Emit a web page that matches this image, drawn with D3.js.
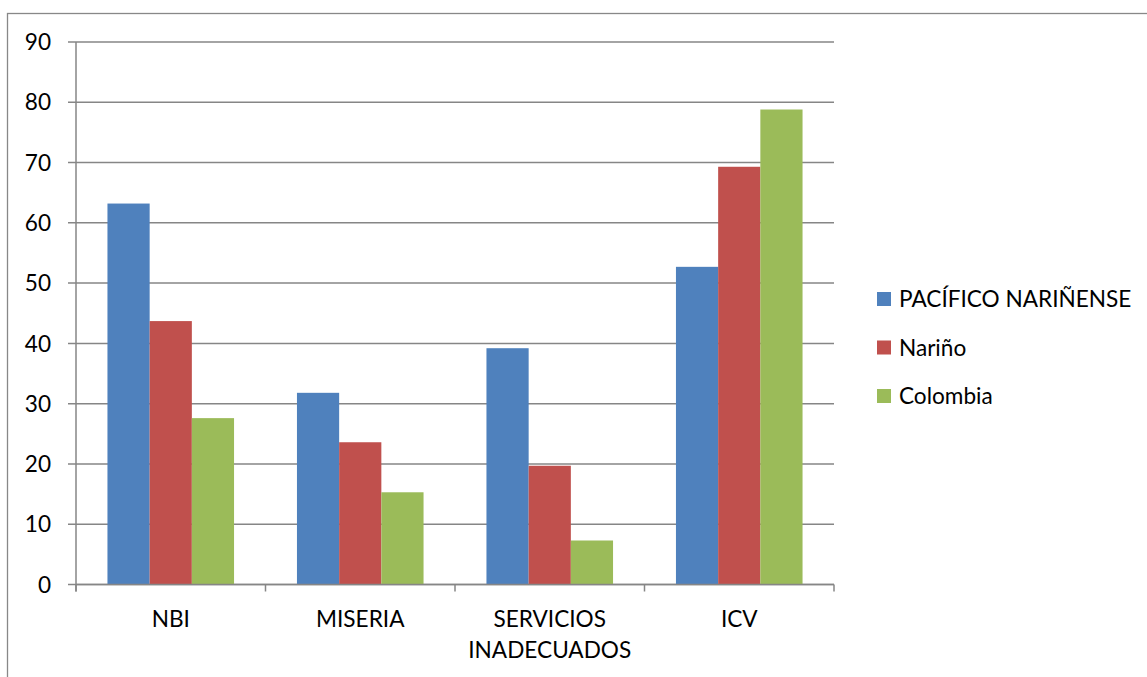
<!DOCTYPE html>
<html><head><meta charset="utf-8">
<script src="https://cdn.jsdelivr.net/npm/d3@7"></script>
<style>body{margin:0;background:#fff}svg{display:block}text{font-family:Lato,"Open Sans",sans-serif;fill:#000}</style>
</head><body>
<svg id="c" width="1147" height="677"></svg>
<script>
const categories = [["NBI"], ["MISERIA"], ["SERVICIOS", "INADECUADOS"], ["ICV"]];
const seriesNames = ["PACÍFICO NARIÑENSE", "Nariño", "Colombia"];
const pacifico = [63.2, 31.8, 39.2, 52.7];
const narino = [43.7, 23.6, 19.7, 69.3];
const colombia = [27.6, 15.3, 7.3, 78.8];
const yTicks = [0, 10, 20, 30, 40, 50, 60, 70, 80, 90];
const colors = ["#4F81BD", "#C0504D", "#9BBB59"];

const FS = 22.6;
const seriesValues = [pacifico, narino, colombia];
const svg = d3.select("#c");
const L = 76, R = 834, T = 42, B = 584.5;

svg.append("rect").attr("x", 7.5).attr("y", 13.5).attr("width", 1145).attr("height", 700)
  .attr("fill", "none").attr("stroke", "#888").attr("stroke-width", 1.3);

const y = d3.scaleLinear().domain([0, 90]).range([B, T]);
const x0 = d3.scaleBand().domain(d3.range(categories.length)).range([L, R]).padding(0);
const gap = x0.bandwidth() * 0.166;
const x1 = d3.scaleBand().domain(d3.range(seriesNames.length)).range([gap, x0.bandwidth() - gap]).padding(0);

svg.append("g").selectAll("line").data(yTicks).join("line")
  .attr("x1", L - 8).attr("x2", R).attr("y1", d => y(d)).attr("y2", d => y(d))
  .attr("stroke", "#868686").attr("stroke-width", 1.5);

svg.append("line").attr("x1", L).attr("x2", L).attr("y1", T).attr("y2", B + 7)
  .attr("stroke", "#868686").attr("stroke-width", 1.5);

svg.append("g").selectAll("text").data(yTicks).join("text")
  .attr("x", 51).attr("y", d => y(d)).attr("dy", "0.36em").attr("text-anchor", "end")
  .attr("font-size", FS).text(d => d);

const g = svg.append("g");
categories.forEach((c, i) => {
  seriesValues.forEach((vals, s) => {
    g.append("rect")
      .attr("x", x0(i) + x1(s)).attr("width", x1.bandwidth())
      .attr("y", y(vals[i])).attr("height", y(0) - y(vals[i]))
      .attr("fill", colors[s]);
  });
});

svg.append("line").attr("x1", L).attr("x2", R).attr("y1", B).attr("y2", B)
  .attr("stroke", "#868686").attr("stroke-width", 1.5);
const tickXs = d3.range(categories.length + 1).map(i => i < categories.length ? x0(i) : R);
svg.append("g").selectAll("line").data(tickXs).join("line")
  .attr("x1", d => d).attr("x2", d => d).attr("y1", B).attr("y2", B + 7)
  .attr("stroke", "#868686").attr("stroke-width", 1.5);

categories.forEach((lines, i) => {
  const t = svg.append("text").attr("text-anchor", "middle").attr("font-size", FS)
    .attr("x", x0(i) + x0.bandwidth() / 2).attr("y", 627);
  lines.forEach((ln, k) => {
    t.append("tspan").attr("x", x0(i) + x0.bandwidth() / 2).attr("dy", k === 0 ? 0 : 31).text(ln);
  });
});

seriesNames.forEach((n, s) => {
  const cy = 299 + s * 48.5;
  svg.append("rect").attr("x", 877).attr("y", cy - 7).attr("width", 14).attr("height", 14).attr("fill", colors[s]);
  svg.append("text").attr("x", 899).attr("y", cy).attr("dy", "0.36em").attr("font-size", FS).text(n);
});
</script>
</body></html>
